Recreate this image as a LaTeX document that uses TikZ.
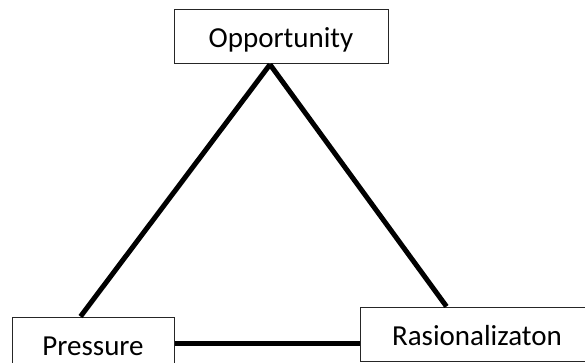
\documentclass[tikz,border=0pt]{standalone}
\usepackage{fontspec}
\setmainfont{Carlito}
\begin{document}
\begin{tikzpicture}[x=1pt,y=-1pt,
  lbl/.style={draw=black!85,line width=1pt,rectangle,inner sep=0pt,
    minimum height=54pt,text height=22pt,text depth=0pt,
    font=\fontsize{29}{34}\selectfont},
  side/.style={line width=5pt,black}]
\useasboundingbox (0,0) rectangle (585,363);
\fill[white] (0,0) rectangle (585,363);
\clip (0,0) rectangle (585,363);
\node[lbl,minimum width=214pt] (opp) at (281,37) {Opportunity};
\node[lbl,minimum width=162pt] (press) at (93,344) {Pressure};
\node[lbl,minimum width=234pt] (rat) at (477,334) {Rasionalizaton};
\coordinate (apex) at ([xshift=-11pt]opp.south);
\coordinate (pl) at ([xshift=-94pt]press.north east);
\coordinate (rl) at ([xshift=87pt]rat.north west);
\draw[side] (apex) -- (pl);
\draw[side] (apex) -- (rl);
\draw[side] (press.east |- 0,343) -- (rat.west |- 0,343);
\end{tikzpicture}
\end{document}
